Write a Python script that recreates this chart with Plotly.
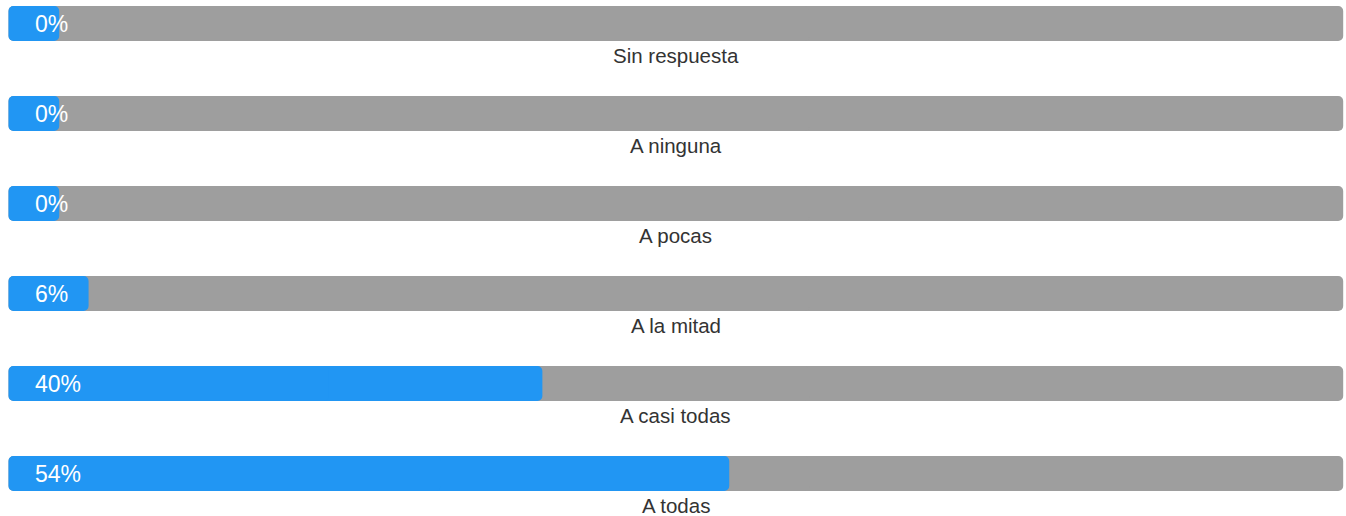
import plotly.graph_objects as go

categories = ["Sin respuesta", "A ninguna", "A pocas", "A la mitad", "A casi todas", "A todas"]
values = [0, 0, 0, 6, 40, 54]
value_labels = ["0%", "0%", "0%", "6%", "40%", "54%"]

# style constants
MIN_BAR = 3.8          # minimum visible bar length (percent of track)
BLUE = "#2196F3"
GRAY = "#9E9E9E"
W, H = 1346, 516
X0_PX, X1_PX = 8.5, 1343.2
Y0_PX, STEP_PX = 23.5, 90.0
BAR_PX = 35
RADIUS = 5
LABEL_OFFSET_PX = 32

px_per_unit_x = (X1_PX - X0_PX) / 100.0
xr = [-X0_PX / px_per_unit_x, 100 + (W - X1_PX) / px_per_unit_x]
yr = [(H - Y0_PX) / STEP_PX, -Y0_PX / STEP_PX]

pos = list(range(len(categories)))
shown = [max(v, MIN_BAR) for v in values]
full = [100] * len(categories)


def rounded_bar(lengths, color):
    """Two overlapping pieces so both ends of each bar get rounded corners."""
    return [
        # grows rightwards from 40% of length to the end (rounded at right)
        go.Bar(
            x=[l * 0.6 for l in lengths], base=[l * 0.4 for l in lengths], y=pos,
            orientation="h", marker=dict(color=color, line=dict(width=0)),
            width=BAR_PX / STEP_PX, hoverinfo="skip", showlegend=False,
        ),
        # grows leftwards from 60% of length back to 0 (rounded at left)
        go.Bar(
            x=[-l * 0.6 for l in lengths], base=[l * 0.6 for l in lengths], y=pos,
            orientation="h", marker=dict(color=color, line=dict(width=0)),
            width=BAR_PX / STEP_PX, hoverinfo="skip", showlegend=False,
        ),
    ]


fig = go.Figure()
for t in rounded_bar(full, GRAY):
    fig.add_trace(t)
for t in rounded_bar(shown, BLUE):
    fig.add_trace(t)

for i, (cat, lab) in enumerate(zip(categories, value_labels)):
    fig.add_annotation(
        x=(33 - X0_PX) / px_per_unit_x, y=i, text=lab, showarrow=False,
        xanchor="left", yanchor="middle",
        font=dict(family="Liberation Sans, Arial, sans-serif", size=23, color="white"),
    )
    fig.add_annotation(
        x=50, y=i + LABEL_OFFSET_PX / STEP_PX, text=cat, showarrow=False,
        xanchor="center", yanchor="middle", borderpad=0,
        font=dict(family="Liberation Sans, Arial, sans-serif", size=20.5, color="#333333"),
    )

fig.update_layout(
    width=W, height=H,
    margin=dict(l=0, r=0, t=0, b=0),
    barmode="overlay",
    barcornerradius=RADIUS,
    plot_bgcolor="white", paper_bgcolor="white",
    xaxis=dict(range=xr, visible=False, fixedrange=True),
    yaxis=dict(range=yr, visible=False, fixedrange=True),
)

fig.write_html("out.html", config={"displayModeBar": False})
